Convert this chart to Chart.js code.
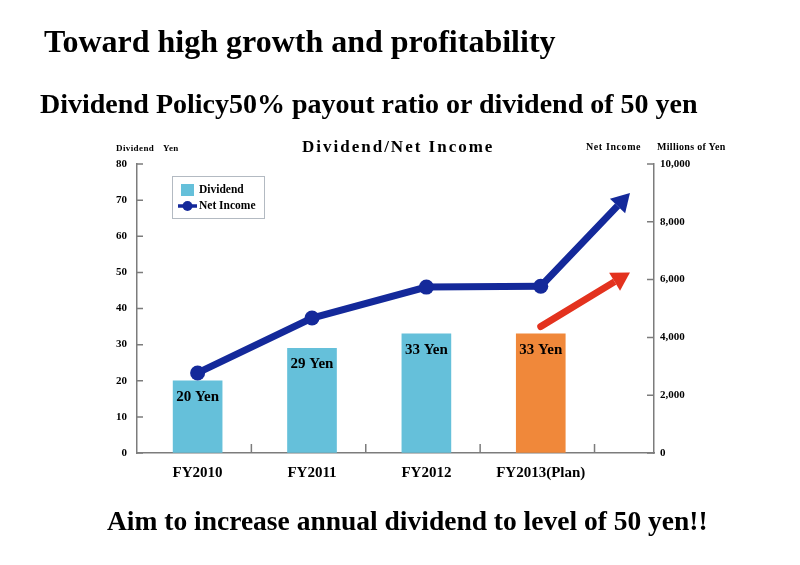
<!DOCTYPE html>
<html>
<head>
<meta charset="utf-8">
<script src="https://cdn.jsdelivr.net/npm/chart.js@4.4.0/dist/chart.umd.min.js"></script>
<style>
  body { margin: 0; background: #fff; }
  #wrap { position: relative; width: 800px; height: 565px; font-family: "Liberation Serif", "Times New Roman", serif; font-weight: bold; color: #000; }
  #wrap canvas { position: absolute; left: 0; top: 0; }
  .txt { position: absolute; white-space: nowrap; line-height: 1; }
</style>
</head>
<body>
<div id="wrap">
  <canvas id="chart" width="800" height="565"></canvas>
  <div class="txt" style="left:44px; top:25px; font-size:32px;">Toward high growth and profitability</div>
  <div class="txt" style="left:40px; top:90px; font-size:28px;">Dividend Policy50% payout ratio or dividend of 50 yen</div>
  <div class="txt" style="left:302px; top:138px; font-size:17px; letter-spacing:2px;">Dividend/Net Income</div>
  <div class="txt" style="left:116px; top:144px; font-size:9px; letter-spacing:0.4px;">Dividend</div>
  <div class="txt" style="left:163px; top:144px; font-size:9px; letter-spacing:0.4px;">Yen</div>
  <div class="txt" style="left:586px; top:142px; font-size:10px; letter-spacing:0.6px;">Net Income</div>
  <div class="txt" style="left:657px; top:142px; font-size:10px; letter-spacing:0.3px;">Millions of Yen</div>
  <div class="txt" style="left:107px; top:507px; font-size:27.5px;">Aim to increase annual dividend to level of 50 yen!!</div>
</div>
<script>
// データ
const categories = ['FY2010', 'FY2011', 'FY2012', 'FY2013(Plan)'];
const dividend = [20, 29, 33, 33];
const netIncome = [2770, 4670, 5740, 5770];
const dividendTicks = [0, 10, 20, 30, 40, 50, 60, 70, 80];
const incomeTicks = [0, 2000, 4000, 6000, 8000, 10000];
// 見通し（矢印）
const outlookX = [3, 3.78];
const netIncomeOutlook = [5770, 9000];
const dividendOutlook = [35, 50];

const NAVY = '#14299a';
const BAR_BLUE = '#65c0da';
const ORANGE = '#f0883a';
const RED = '#e3321e';
const AXIS = '#7c7c7c';
const FONT = '"Liberation Serif", "Times New Roman", serif';

// 内向きの目盛り
const innerTicks = {
    id: 'innerTicks',
    afterDraw(chart) {
        const { ctx, chartArea, scales } = chart;
        ctx.save();
        ctx.strokeStyle = AXIS;
        ctx.lineWidth = 1.5;
        ctx.beginPath();
        dividendTicks.forEach(v => {
            const y = scales.y.getPixelForValue(v);
            ctx.moveTo(chartArea.left, y);
            ctx.lineTo(chartArea.left + 6, y);
        });
        incomeTicks.forEach(v => {
            const y = scales.y2.getPixelForValue(v);
            ctx.moveTo(chartArea.right, y);
            ctx.lineTo(chartArea.right - 7, y);
        });
        categories.forEach((c, i) => {
            const x = scales.x.getPixelForValue(i + 0.47);
            ctx.moveTo(x, chartArea.bottom);
            ctx.lineTo(x, chartArea.bottom - 9);
        });
        ctx.stroke();
        ctx.restore();
    }
};

// 矢印
function arrowGeom(chart, index) {
    const pts = chart.getDatasetMeta(index).data;
    const a = pts[pts.length - 2], b = pts[pts.length - 1];
    const len = Math.hypot(b.x - a.x, b.y - a.y);
    const ux = (b.x - a.x) / len, uy = (b.y - a.y) / len;
    return { tip: b, ux, uy, headLen: 18, halfW: 10.5 };
}

const arrows = {
    id: 'arrows',
    beforeDatasetDraw(chart, args) {
        const ds = chart.data.datasets[args.index];
        if (!ds.arrowHead) return;
        const g = arrowGeom(chart, args.index);
        const bx = g.tip.x - g.ux * g.headLen, by = g.tip.y - g.uy * g.headLen;
        const nx = -g.uy, ny = g.ux;
        const ctx = chart.ctx;
        ctx.save();
        ctx.beginPath();
        ctx.moveTo(bx + nx * 1000, by + ny * 1000);
        ctx.lineTo(bx - nx * 1000, by - ny * 1000);
        ctx.lineTo(bx - nx * 1000 - g.ux * 2000, by - ny * 1000 - g.uy * 2000);
        ctx.lineTo(bx + nx * 1000 - g.ux * 2000, by + ny * 1000 - g.uy * 2000);
        ctx.closePath();
        ctx.clip();
    },
    afterDatasetDraw(chart, args) {
        const ds = chart.data.datasets[args.index];
        if (!ds.arrowHead) return;
        const ctx = chart.ctx;
        ctx.restore();
        const g = arrowGeom(chart, args.index);
        const bx = g.tip.x - g.ux * g.headLen, by = g.tip.y - g.uy * g.headLen;
        const nx = -g.uy, ny = g.ux;
        ctx.save();
        ctx.fillStyle = ds.borderColor;
        ctx.beginPath();
        ctx.moveTo(g.tip.x, g.tip.y);
        ctx.lineTo(bx + nx * g.halfW, by + ny * g.halfW);
        ctx.lineTo(bx - nx * g.halfW, by - ny * g.halfW);
        ctx.closePath();
        ctx.fill();
        ctx.restore();
    }
};

// 棒の数値ラベルと凡例
const labelsAndLegend = {
    id: 'labelsAndLegend',
    afterDatasetsDraw(chart) {
        const { ctx, chartArea } = chart;
        const barIndex = chart.data.datasets.findIndex(d => d.type === 'bar');
        const meta = chart.getDatasetMeta(barIndex);
        ctx.save();
        ctx.fillStyle = '#000';
        ctx.font = 'bold 15px ' + FONT;
        ctx.textAlign = 'center';
        ctx.textBaseline = 'middle';
        meta.data.forEach((bar, i) => {
            ctx.fillText(dividend[i] + ' Yen', bar.x, bar.y + 16);
        });

        // 凡例
        const x0 = chartArea.left + 35, y0 = chartArea.top + 12;
        ctx.fillStyle = '#fff';
        ctx.fillRect(x0, y0, 92, 42);
        ctx.strokeStyle = '#b3bac2';
        ctx.lineWidth = 1;
        ctx.strokeRect(x0 + 0.5, y0 + 0.5, 92, 42);

        ctx.fillStyle = BAR_BLUE;
        ctx.fillRect(x0 + 9, y0 + 8, 13, 12);
        ctx.strokeStyle = NAVY;
        ctx.lineWidth = 3.5;
        ctx.beginPath();
        ctx.moveTo(x0 + 6, y0 + 30);
        ctx.lineTo(x0 + 25, y0 + 30);
        ctx.stroke();
        ctx.fillStyle = NAVY;
        ctx.beginPath();
        ctx.arc(x0 + 15.5, y0 + 30, 5, 0, Math.PI * 2);
        ctx.fill();

        ctx.fillStyle = '#000';
        ctx.font = 'bold 11.5px ' + FONT;
        ctx.textAlign = 'left';
        ctx.fillText(chart.data.datasets[barIndex].label, x0 + 27, y0 + 14);
        ctx.fillText(chart.data.datasets[0].label, x0 + 27, y0 + 30);
        ctx.restore();
    }
};

const ctx = document.getElementById('chart');

new Chart(ctx, {
    type: 'bar',
    data: {
        datasets: [
            {
                type: 'line',
                label: 'Net Income',
                data: categories.map((c, i) => ({ x: i, y: netIncome[i] })),
                yAxisID: 'y2',
                borderColor: NAVY,
                backgroundColor: NAVY,
                borderWidth: 7,
                pointRadius: 7.5,
                pointBackgroundColor: NAVY,
                pointBorderWidth: 0,
                tension: 0,
                order: 1
            },
            {
                type: 'line',
                label: 'outlook',
                data: outlookX.map((x, i) => ({ x: x, y: netIncomeOutlook[i] })),
                yAxisID: 'y2',
                borderColor: NAVY,
                borderWidth: 7,
                borderCapStyle: 'round',
                pointRadius: 0,
                arrowHead: true,
                order: 1
            },
            {
                type: 'line',
                label: 'dividend outlook',
                data: outlookX.map((x, i) => ({ x: x, y: dividendOutlook[i] })),
                yAxisID: 'y',
                borderColor: RED,
                borderWidth: 7,
                borderCapStyle: 'round',
                pointRadius: 0,
                arrowHead: true,
                order: 1
            },
            {
                type: 'bar',
                label: 'Dividend',
                data: categories.map((c, i) => ({ x: i, y: dividend[i] })),
                yAxisID: 'y',
                backgroundColor: [BAR_BLUE, BAR_BLUE, BAR_BLUE, ORANGE],
                barThickness: 49,
                order: 2
            }
        ]
    },
    options: {
        responsive: false,
        animation: false,
        layout: { padding: { top: 164, left: 0, right: 0, bottom: 0 } },
        plugins: {
            legend: { display: false },
            tooltip: { enabled: false }
        },
        scales: {
            x: {
                type: 'linear',
                offset: false,
                min: -0.53,
                max: 3.99,
                afterBuildTicks: scale => { scale.ticks = categories.map((c, i) => ({ value: i })); },
                afterFit: scale => { scale.height = 112; },
                grid: { display: true, offset: false, drawOnChartArea: false, drawTicks: false },
                border: { display: true, color: AXIS, width: 1.5 },
                ticks: {
                    autoSkip: false,
                    maxRotation: 0,
                    padding: 11,
                    color: '#000',
                    font: { family: FONT, size: 15, weight: 'bold' },
                    callback: v => categories[v] ?? ''
                }
            },
            y: {
                position: 'left',
                min: 0,
                max: 80,
                afterBuildTicks: scale => { scale.ticks = dividendTicks.map(v => ({ value: v })); },
                afterFit: scale => { scale.width = 137; },
                grid: { display: true, drawOnChartArea: false, drawTicks: false },
                border: { display: true, color: AXIS, width: 1.5 },
                ticks: {
                    padding: 10,
                    color: '#000',
                    font: { family: FONT, size: 11, weight: 'bold' }
                }
            },
            y2: {
                position: 'right',
                min: 0,
                max: 10000,
                afterBuildTicks: scale => { scale.ticks = incomeTicks.map(v => ({ value: v })); },
                afterFit: scale => { scale.width = 146; },
                grid: { display: true, drawOnChartArea: false, drawTicks: false },
                border: { display: true, color: AXIS, width: 1.5 },
                ticks: {
                    padding: 6,
                    color: '#000',
                    font: { family: FONT, size: 11, weight: 'bold' },
                    callback: v => v.toLocaleString('en-US')
                }
            }
        }
    },
    plugins: [innerTicks, arrows, labelsAndLegend]
});
</script>
</body>
</html>
